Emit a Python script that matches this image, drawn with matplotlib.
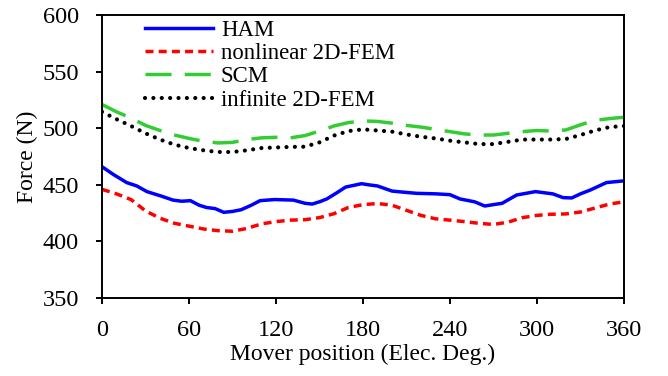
import matplotlib
matplotlib.use("Agg")
import matplotlib.pyplot as plt

plt.rcParams['font.family'] = ['Liberation Serif', 'DejaVu Serif']

# HAM curve (kinked, read at its own points)
ham_x = [0, 8, 17, 24, 31, 41, 49, 55, 61, 67, 72, 78, 84, 90, 96, 103, 109, 119,
         132, 140, 145, 150, 155, 162, 168, 179, 184, 190, 200, 208, 217, 231, 240,
         247, 257, 264, 270, 276, 286, 299, 311, 318, 324, 330, 337, 348, 360]
ham_y = [466, 459, 452, 449, 444, 440, 436.5, 435.5, 436, 432, 430, 429, 425.7,
         426.5, 428, 432, 436, 437, 436.5, 433.7, 433, 435, 437.5, 443, 448, 451,
         450, 449, 444.5, 443.5, 442.5, 442, 441.3, 437.5, 435, 431.3, 432.5, 433.7,
         441, 444, 442, 438.7, 438.4, 442, 445.5, 452, 453.5]

# other curves every 10 deg
pos = list(range(0, 361, 10))
fem_nl = [446, 442, 437, 427, 420.5, 416, 413.5, 411, 409.5, 409, 411.5, 415.5,
          417.5, 418.8, 419.2, 421, 424.5, 430, 432.5, 433.5, 432, 427.5, 423, 420,
          418.8, 417.5, 416, 415, 417, 421, 423, 424, 424.3, 426, 429.5, 433, 435]
scm = [521, 514.5, 509, 502.5, 498, 494, 491, 488.5, 487, 487.5, 490, 491.5, 492,
       491.5, 493.5, 497.5, 502, 505, 506.5, 506, 504.5, 502.5, 501, 499, 497, 495,
       494, 494, 495.5, 497, 498, 497.5, 498.5, 503, 507, 508.5, 509.7]
fem_inf = [514.5, 508, 502, 495.5, 490, 485.5, 482.5, 480.5, 479, 479, 480.5, 482.5,
           483, 483.5, 483.7, 487.5, 493.5, 497.5, 499, 498, 497, 494.5, 492.5, 491,
           489, 487.5, 486, 486, 488, 490, 490, 490, 490.5, 494, 498, 501, 502]

fig = plt.figure(figsize=(6.68, 3.76), dpi=100)
ax = fig.add_axes([0.1527, 0.2074, 0.7813, 0.7526])

lw = 2.5
ax.plot(ham_x, ham_y, color='#0000ff', lw=lw, label='HAM')
ax.plot(pos, fem_nl, color='#ff0000', lw=lw, dashes=(2.3, 1.5), label='nonlinear 2D-FEM')
ax.plot(pos, scm, color='#33cc33', lw=lw, dashes=(7.5, 3.8), label='SCM')
ax.plot(pos, fem_inf, color='black', lw=3.0, dashes=(0.01, 2.0),
        dash_capstyle='round', label='infinite 2D-FEM')

ax.set_xlim(0, 360)
ax.set_ylim(350, 600)
ax.set_xticks(range(0, 361, 60))
ax.set_yticks(range(350, 601, 50))
ax.tick_params(direction='out', length=4.5, width=1.4, labelsize=17.5)
ax.tick_params(axis='y', pad=12)
ax.tick_params(axis='x', pad=11)
for s in ax.spines.values():
    s.set_linewidth(1.4)

ax.set_xlabel('Mover position (Elec. Deg.)', fontsize=17, labelpad=2)
ax.set_ylabel('Force (N)', fontsize=17, labelpad=3)

ax.legend(loc='upper left', bbox_to_anchor=(0.075, 0.995), frameon=False,
          fontsize=16.4, handlelength=3.0, handletextpad=0.35,
          labelspacing=0.1, borderpad=0.15, borderaxespad=0)

fig.savefig('out.png', dpi=100)
